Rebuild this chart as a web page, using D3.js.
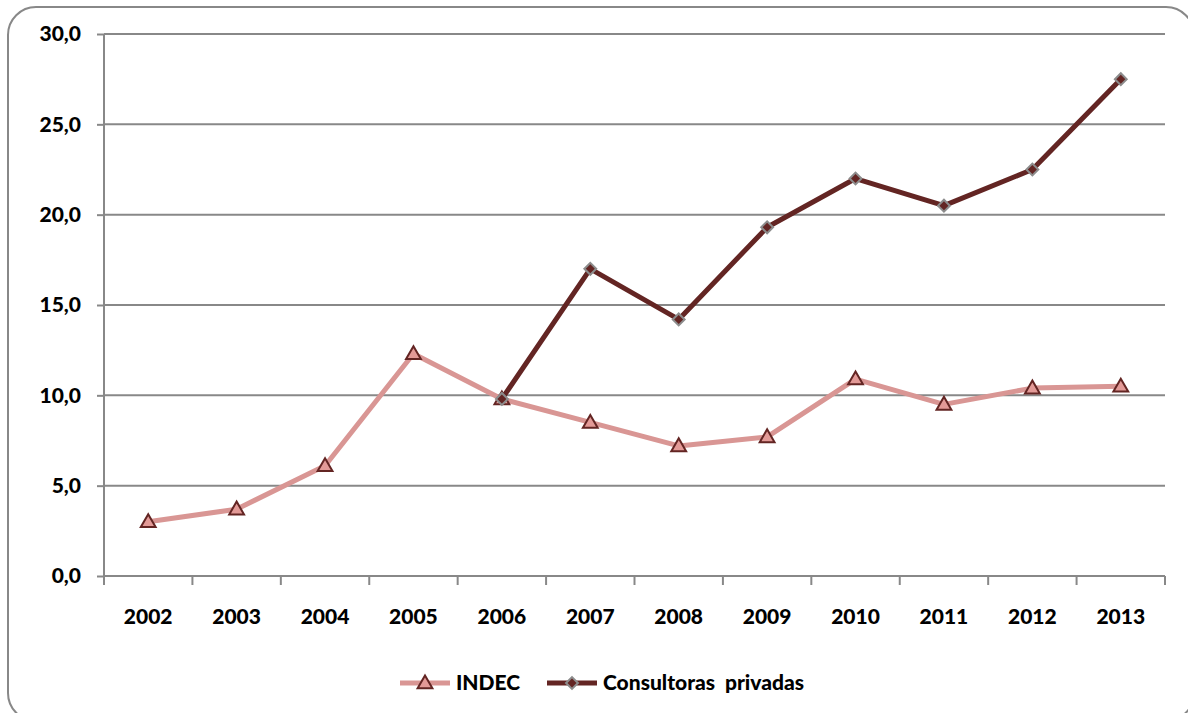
<!DOCTYPE html>
<html><head><meta charset="utf-8">
<script src="https://cdn.jsdelivr.net/npm/d3@7"></script>
<style>body{margin:0;background:#fff}svg{display:block}text{font-family:Lato,"Open Sans",sans-serif;font-weight:900;fill:#000}</style>
</head><body>
<svg id="c" width="1188" height="713"></svg>
<script>
const years = ["2002","2003","2004","2005","2006","2007","2008","2009","2010","2011","2012","2013"];
const indec = [3.0,3.7,6.1,12.3,9.8,8.5,7.2,7.7,10.9,9.5,10.4,10.5];
const consultoras = [null,null,null,null,9.8,17.0,14.2,19.3,22.0,20.5,22.5,27.5];
const yTicks = [0,5,10,15,20,25,30];
const seriesNames = ["INDEC","Consultoras  privadas"];

const svg = d3.select("#c");
const L=104, R=1165, T=34, B=576;
const FS = "21px";
svg.append("rect").attr("x",8).attr("y",7).attr("width",1186).attr("height",714).attr("rx",28)
  .attr("fill","#fff").attr("stroke","#888").attr("stroke-width",2);

const x = d3.scaleBand().domain(years).range([L,R]);
const y = d3.scaleLinear().domain([0,30]).range([B,T]);
const fmt = v => d3.format(".1f")(v).replace(".",",");

svg.append("g").selectAll("line").data(yTicks.filter(d=>d>0)).join("line")
  .attr("x1",L).attr("x2",R).attr("y1",d=>y(d)).attr("y2",d=>y(d))
  .attr("stroke","#888").attr("stroke-width",2);

const ya = svg.append("g").attr("transform",`translate(${L},0)`)
  .call(d3.axisLeft(y).tickValues(yTicks).tickFormat(fmt).tickSize(7).tickPadding(16));
ya.select(".domain").attr("stroke","#888").attr("stroke-width",2).attr("d",`M0,${B}V${T}`);
ya.selectAll(".tick line").attr("stroke","#888").attr("stroke-width",2);
ya.selectAll("text").style("font-size",FS).style("font-family","Lato,sans-serif").style("font-weight","900").attr("fill","#000");

const xa = svg.append("g").attr("transform",`translate(0,${B})`);
xa.append("line").attr("x1",L).attr("x2",R).attr("stroke","#888").attr("stroke-width",2);
xa.selectAll("line.tk").data(years.concat(["end"])).join("line").attr("class","tk")
  .attr("x1",(d,i)=>L+i*x.bandwidth()).attr("x2",(d,i)=>L+i*x.bandwidth())
  .attr("y1",0).attr("y2",9).attr("stroke","#888").attr("stroke-width",2);
xa.selectAll("text").data(years).join("text")
  .attr("x",d=>x(d)+x.bandwidth()/2).attr("y",48).attr("text-anchor","middle")
  .style("font-size",FS).text(d=>d);

const cx = d => x(d)+x.bandwidth()/2;
const line = d3.line().defined(d=>d[1]!=null).x(d=>cx(d[0])).y(d=>y(d[1]));
const c1="#d99694", c2="#632523";
svg.append("path").datum(years.map((d,i)=>[d,indec[i]])).attr("d",line)
  .attr("fill","none").attr("stroke",c1).attr("stroke-width",5).attr("stroke-linejoin","round");
svg.append("path").datum(years.map((d,i)=>[d,consultoras[i]])).attr("d",line)
  .attr("fill","none").attr("stroke",c2).attr("stroke-width",5).attr("stroke-linejoin","round");

const tri = d3.symbol().type(d3.symbolTriangle).size(95);
const dia = d3.symbol().type(d3.symbolSquare).size(70);
function triMark(g,px,py){g.append("path").attr("d",tri()).attr("transform",`translate(${px},${py+1})`)
  .attr("fill","#e39a97").attr("stroke",c2).attr("stroke-width",2);}
function diaMark(g,px,py){g.append("path").attr("d",dia()).attr("transform",`translate(${px},${py}) rotate(45)`)
  .attr("fill",c2).attr("stroke","#8c8c8c").attr("stroke-width",2);}
const mg = svg.append("g");
years.forEach((d,i)=>triMark(mg,cx(d),y(indec[i])));
years.forEach((d,i)=>{ if(consultoras[i]!=null) diaMark(mg,cx(d),y(consultoras[i])); });

const lg = svg.append("g");
lg.append("line").attr("x1",400).attr("x2",450).attr("y1",683).attr("y2",683).attr("stroke",c1).attr("stroke-width",5);
triMark(lg,425,683);
lg.append("text").attr("x",456).attr("y",690).style("font-size",FS).text(seriesNames[0]);
lg.append("line").attr("x1",547).attr("x2",597).attr("y1",683).attr("y2",683).attr("stroke",c2).attr("stroke-width",5);
diaMark(lg,572,683);
lg.append("text").attr("x",603).attr("y",690).style("font-size",FS).attr("xml:space","preserve").style("white-space","pre").text(seriesNames[1]);
</script>
</body></html>
